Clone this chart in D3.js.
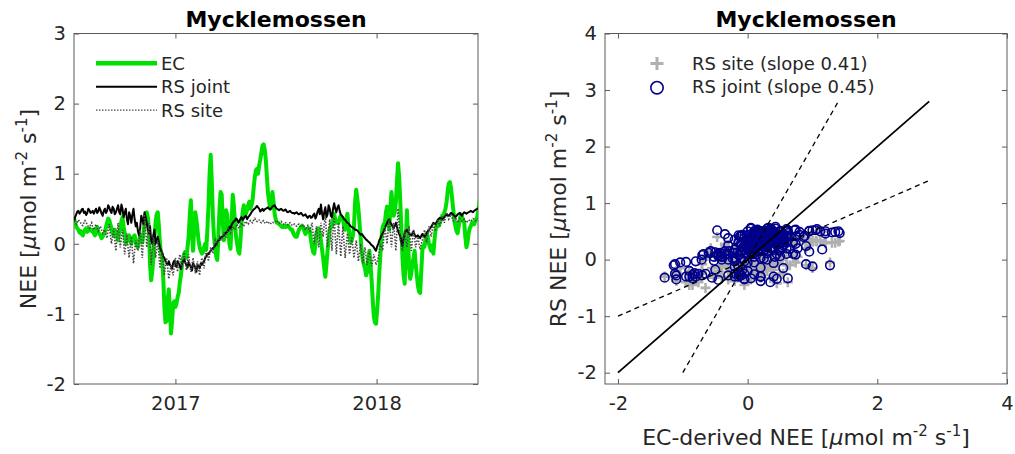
<!DOCTYPE html>
<html><head><meta charset="utf-8">
<script src="https://cdn.jsdelivr.net/npm/d3@7"></script>
<style>
body{margin:0;background:#fff}
text{font-family:"DejaVu Sans",sans-serif;fill:#262626}
</style>
</head><body>
<svg id="c" width="1015" height="454"></svg>
<script>
// ---- data (sampled every 2 days from 2016-07-01) ----
const startDate = "2016-07-01";
const stepDays = 2;
const ec = [
0.36,0.3,0.25,0.22,0.2,0.16,0.18,0.14,0.12,0.17,0.2,0.22,0.17,0.2,0.22,0.19,0.18,0.2,0.15,0.12,
0.2,0.24,0.17,0.14,0.12,0.08,0.1,0.14,0.16,0.24,0.3,0.36,0.34,0.28,0.22,0.15,0.12,0.2,0.18,
0.1,0.05,0.15,0.22,0.32,0.38,0.25,0.15,0.0,0.05,0.1,0.12,0.05,0.0,0.08,0.1,0.12,0.02,-0.02,-0.05,
0.05,0.1,0.12,0.02,0.15,0.3,0.42,0.45,0.38,0.2,-0.3,-0.52,-0.4,-0.2,0.1,0.3,0.42,0.45,0.25,0.0,
-0.15,-0.2,-0.5,-0.9,-1.12,-1.1,-0.8,-0.65,-0.95,-1.28,-1.1,-0.85,-0.82,-0.9,-0.85,-0.76,-0.7,-0.55,-0.45,-0.3,
-0.2,-0.14,-0.12,-0.2,-0.05,0.1,0.4,0.62,0.2,-0.1,0.2,0.45,0.35,0.2,0.05,-0.05,-0.1,-0.14,-0.12,-0.05,
0.0,-0.08,0.2,0.55,1.0,1.27,0.9,0.4,0.1,-0.05,-0.18,-0.23,0.1,0.5,0.74,0.7,0.3,0.05,0.3,0.48,
0.4,0.2,0.0,-0.07,0.3,0.7,0.55,0.3,0.1,0.0,-0.1,-0.14,0.05,0.3,0.45,0.55,0.5,0.43,0.48,0.55,
0.6,0.5,0.55,0.62,0.8,0.95,1.05,1.07,1.0,1.12,1.2,1.3,1.4,1.42,1.35,1.2,0.95,0.72,0.6,0.5,
0.6,0.74,0.6,0.43,0.35,0.3,0.3,0.28,0.27,0.25,0.24,0.24,0.26,0.24,0.25,0.26,0.24,0.22,0.2,0.2,
0.15,0.12,0.1,0.1,0.15,0.2,0.22,0.24,0.26,0.24,0.18,0.14,0.17,0.2,0.22,0.18,0.05,-0.05,-0.12,-0.14,
0.0,0.15,0.2,0.22,0.15,0.05,-0.08,-0.2,-0.35,-0.47,-0.3,-0.1,0.05,0.2,0.24,0.25,0.35,0.43,0.35,0.3,
0.32,0.3,0.36,0.4,0.38,0.35,0.25,0.2,0.35,0.43,0.25,0.1,0.02,0.05,0.12,0.25,0.6,0.77,0.65,0.5,
0.3,0.1,-0.1,-0.23,-0.3,-0.35,-0.45,-0.4,-0.2,-0.1,-0.3,-0.52,-0.8,-1.04,-1.12,-1.14,-0.95,-0.71,-0.4,-0.14,
0.1,0.24,0.28,0.3,0.45,0.53,0.35,0.2,0.5,0.74,0.55,0.4,0.45,0.6,0.9,1.15,0.95,0.6,0.2,-0.2,
-0.45,-0.57,0.0,0.48,0.1,-0.35,-0.5,-0.42,-0.28,-0.2,-0.1,-0.3,-0.45,-0.6,-0.68,-0.7,-0.4,-0.1,-0.02,-0.04,
0.08,0.15,0.1,0.0,-0.05,-0.1,-0.02,-0.14,0.05,0.2,0.28,0.25,0.26,0.3,0.35,0.4,0.38,0.45,0.5,0.6,
0.75,0.86,0.88,0.8,0.65,0.5,0.35,0.25,0.18,0.15,0.25,0.35,0.42,0.38,0.35,0.3,0.1,-0.05,0.02,0.15,
0.22,0.25,0.3,0.3,0.28,0.32,0.35,0.4,0.5,0.62];
const rsJoint = [
0.31,0.38,0.42,0.46,0.47,0.43,0.45,0.49,0.5,0.44,0.46,0.41,0.44,0.5,0.48,0.44,0.45,0.47,0.43,0.47,
0.5,0.44,0.46,0.52,0.48,0.43,0.4,0.47,0.5,0.44,0.47,0.55,0.52,0.47,0.44,0.53,0.5,0.42,0.45,
0.5,0.55,0.45,0.42,0.56,0.5,0.38,0.44,0.5,0.35,0.28,0.45,0.4,0.3,0.42,0.5,0.35,0.25,0.3,0.18,
0.12,0.22,0.4,0.35,0.28,0.45,0.38,0.3,0.2,0.15,0.25,0.05,0.0,0.12,0.2,0.0,0.05,0.1,0.02,-0.05,
-0.1,-0.12,-0.18,-0.2,-0.25,-0.28,-0.3,-0.25,-0.3,-0.32,-0.35,-0.27,-0.24,-0.3,-0.33,-0.25,-0.28,-0.32,-0.36,-0.28,
-0.25,-0.22,-0.27,-0.3,-0.34,-0.26,-0.3,-0.33,-0.38,-0.28,-0.3,-0.34,-0.4,-0.3,-0.33,-0.35,-0.28,-0.3,-0.27,-0.25,
-0.2,-0.18,-0.14,-0.15,-0.12,-0.1,-0.08,-0.06,-0.05,-0.03,0.0,0.02,0.05,0.06,0.09,0.1,0.11,0.12,0.15,0.16,
0.17,0.2,0.24,0.22,0.27,0.3,0.32,0.33,0.36,0.35,0.3,0.32,0.36,0.38,0.34,0.36,0.39,0.4,0.35,0.38,
0.4,0.42,0.45,0.47,0.49,0.5,0.52,0.54,0.52,0.5,0.46,0.48,0.5,0.47,0.49,0.5,0.51,0.52,0.5,0.49,
0.51,0.53,0.54,0.55,0.52,0.5,0.49,0.48,0.49,0.5,0.48,0.47,0.48,0.49,0.46,0.45,0.46,0.47,0.45,0.44,
0.44,0.43,0.44,0.45,0.43,0.42,0.43,0.44,0.42,0.4,0.41,0.42,0.39,0.37,0.39,0.4,0.37,0.38,0.41,0.43,
0.36,0.4,0.46,0.5,0.42,0.56,0.44,0.35,0.45,0.52,0.38,0.42,0.55,0.5,0.4,0.38,0.5,0.58,0.5,0.45,
0.52,0.55,0.47,0.42,0.4,0.38,0.35,0.34,0.32,0.3,0.29,0.27,0.25,0.24,0.23,0.22,0.2,0.2,0.19,0.17,
0.15,0.13,0.14,0.12,0.1,0.08,0.06,0.05,0.03,0.02,0.0,-0.02,-0.03,-0.05,-0.08,-0.1,-0.04,0.0,0.05,0.08,
0.12,0.15,0.18,0.22,0.26,0.3,0.33,0.35,0.3,0.28,0.25,0.22,0.26,0.3,0.24,0.18,0.14,0.1,0.03,-0.03,
0.08,0.15,0.18,0.2,0.17,0.15,0.13,0.12,0.15,0.18,0.13,0.1,0.11,0.12,0.1,0.08,0.11,0.14,0.12,0.1,
0.12,0.15,0.18,0.2,0.22,0.24,0.27,0.3,0.29,0.28,0.31,0.34,0.36,0.37,0.36,0.35,0.37,0.38,0.4,0.42,
0.41,0.4,0.42,0.44,0.43,0.42,0.4,0.38,0.4,0.42,0.43,0.44,0.42,0.4,0.43,0.45,0.44,0.43,0.44,0.45,
0.46,0.47,0.46,0.45,0.47,0.48,0.49,0.5,0.51,0.52];
const rsSite = [
0.33,0.3,0.28,0.31,0.34,0.32,0.3,0.27,0.26,0.3,0.33,0.3,0.28,0.24,0.22,0.27,0.3,0.24,0.2,0.25,
0.28,0.22,0.18,0.22,0.25,0.2,0.15,0.18,0.2,0.12,0.08,0.2,0.28,0.12,0.0,0.1,0.22,0.05,-0.1,
0.12,0.3,0.1,-0.05,0.08,0.2,0.02,-0.15,0.0,0.15,-0.05,-0.2,-0.05,0.1,-0.1,-0.28,-0.1,0.05,-0.05,-0.1,
0.05,0.2,0.0,-0.2,0.1,0.42,0.2,-0.05,0.12,0.3,0.0,-0.3,-0.1,0.1,-0.05,-0.2,-0.08,0.05,-0.15,-0.35,
-0.2,-0.1,-0.3,-0.45,-0.3,-0.2,-0.35,-0.5,-0.4,-0.3,-0.38,-0.45,-0.3,-0.2,-0.3,-0.4,-0.25,-0.15,-0.25,-0.35,
-0.2,-0.1,-0.25,-0.38,-0.25,-0.15,-0.3,-0.4,-0.3,-0.2,-0.32,-0.42,-0.33,-0.25,-0.35,-0.45,-0.3,-0.2,-0.28,-0.35,
-0.2,-0.1,-0.18,-0.25,-0.15,-0.05,-0.1,-0.12,-0.02,0.05,0.0,-0.02,0.05,0.1,0.06,0.05,0.12,0.15,0.12,0.1,
0.17,0.22,0.18,0.15,0.2,0.25,0.22,0.2,0.25,0.28,0.24,0.22,0.27,0.3,0.27,0.25,0.3,0.32,0.29,0.28,
0.31,0.33,0.31,0.3,0.34,0.36,0.33,0.32,0.34,0.34,0.31,0.3,0.32,0.33,0.3,0.29,0.31,0.32,0.29,0.28,
0.3,0.31,0.3,0.3,0.32,0.33,0.3,0.29,0.31,0.32,0.29,0.28,0.3,0.3,0.28,0.27,0.29,0.3,0.28,0.26,
0.27,0.28,0.26,0.25,0.27,0.28,0.25,0.24,0.26,0.27,0.22,0.2,0.24,0.26,0.2,0.18,0.25,0.3,0.12,0.0,
0.15,0.25,0.08,-0.05,0.15,0.3,0.2,0.1,0.28,0.4,0.15,-0.05,0.2,0.35,0.1,-0.1,0.2,0.4,0.1,-0.15,
0.1,0.3,0.05,-0.18,0.05,0.25,0.0,-0.2,-0.02,0.15,0.0,-0.15,-0.02,0.1,-0.05,-0.2,-0.08,0.05,-0.1,-0.25,
-0.12,0.0,-0.15,-0.28,-0.15,-0.05,-0.2,-0.3,-0.18,-0.1,-0.22,-0.32,-0.25,-0.15,-0.22,-0.3,-0.25,-0.2,-0.1,0.0,
-0.05,-0.1,0.1,0.25,0.12,0.0,0.2,0.35,0.15,-0.05,0.15,0.3,0.1,-0.1,0.2,0.5,0.25,0.05,-0.02,-0.1,
0.05,0.2,0.08,-0.05,0.1,0.25,0.05,-0.1,0.05,0.2,0.08,-0.05,0.03,0.1,0.0,-0.08,0.0,0.05,0.12,0.2,
0.1,0.02,0.15,0.25,0.18,0.1,0.2,0.3,0.22,0.18,0.28,0.35,0.3,0.25,0.33,0.4,0.35,0.3,0.38,0.45,
0.4,0.35,0.38,0.42,0.37,0.33,0.36,0.38,0.34,0.3,0.33,0.36,0.34,0.32,0.34,0.35,0.32,0.3,0.32,0.34,
0.33,0.32,0.34,0.36,0.35,0.33,0.34,0.35,0.36,0.38];
const timeDomain = ["2016-07-01","2018-07-04"];
const yearTicks = ["2017-01-01","2018-01-01"];
const leftYTicks = [-2,-1,0,1,2,3];
const rightXTicks = [-2,0,2,4];
const rightYTicks = [-2,-1,0,1,2,3,4];
const rightDomain = [-2.2,4];
const refLines = [
  {x:[-2,2.8], y:[-2,2.8], dash:null},
  {x:[-1,1.4], y:[-2,2.8], dash:"5,4"},
  {x:[-2,2.8], y:[-1,1.4], dash:"5,4"}
];
const title = "Mycklemossen";
const leftLegend = ["EC","RS joint","RS site"];
const rightLegend = ["RS site (slope 0.41)","RS joint (slope 0.45)"];

// ---- drawing ----
const svg = d3.select("#c");
const parse = d3.utcParse("%Y-%m-%d");
const t0 = parse(startDate);
const n = Math.min(ec.length, rsJoint.length, rsSite.length);
const idx = d3.range(n);
const dates = idx.map(i => d3.utcDay.offset(t0, i * stepDays));

const L = {x0:74, x1:478, y0:33.5, y1:384};
const R = {x0:605, x1:1007, y0:33.5, y1:384};
const axCol = "#5a5a5a";
const tickFont = 19.5;

const xL = d3.scaleUtc().domain(timeDomain.map(parse)).range([L.x0, L.x1]);
const yL = d3.scaleLinear().domain([-2,3]).range([L.y1, L.y0]);
const xR = d3.scaleLinear().domain(rightDomain).range([R.x0, R.x1]);
const yR = d3.scaleLinear().domain(rightDomain).range([R.y1, R.y0]);

function frame(B, x, y, xt, yt, xfmt, yfmt){
  const g = svg.append("g");
  g.append("rect").attr("x",B.x0).attr("y",B.y0).attr("width",B.x1-B.x0).attr("height",B.y1-B.y0)
    .attr("fill","none").attr("stroke",axCol).attr("stroke-width",1);
  const ax = [
    [d3.axisBottom(x).tickValues(xt).tickFormat(xfmt), `translate(0,${B.y1})`, 12],
    [d3.axisTop(x).tickValues(xt).tickFormat(""), `translate(0,${B.y0})`, 8],
    [d3.axisLeft(y).tickValues(yt).tickFormat(yfmt), `translate(${B.x0},0)`, 8],
    [d3.axisRight(y).tickValues(yt).tickFormat(""), `translate(${B.x1},0)`, 8]
  ];
  ax.forEach(([a, tr, pad]) => {
    const gg = g.append("g").attr("transform", tr)
      .call(a.tickSizeInner(-5).tickSizeOuter(0).tickPadding(pad));
    gg.select(".domain").remove();
    gg.selectAll("line").attr("stroke", axCol);
    gg.selectAll("text").attr("font-size", tickFont).attr("font-family","DejaVu Sans").attr("fill","#262626");
  });
  return g;
}

// Left panel
frame(L, xL, yL, yearTicks.map(parse), leftYTicks, d3.utcFormat("%Y"), d => d);
const defs = svg.append("defs");
defs.append("clipPath").attr("id","clipL").append("rect")
  .attr("x",L.x0).attr("y",L.y0).attr("width",L.x1-L.x0).attr("height",L.y1-L.y0);

const lineL = arr => d3.line().x(i=>xL(dates[i])).y(i=>yL(arr[i]))(idx);
const gl = svg.append("g").attr("clip-path","url(#clipL)");
gl.append("path").attr("d", lineL(ec)).attr("fill","none").attr("stroke","#00e000").attr("stroke-width",4).attr("stroke-linejoin","round");
gl.append("path").attr("d", lineL(rsJoint)).attr("fill","none").attr("stroke","#000").attr("stroke-width",2).attr("stroke-linejoin","round");
gl.append("path").attr("d", lineL(rsSite)).attr("fill","none").attr("stroke","#4a4a4a").attr("stroke-width",1.6).attr("stroke-dasharray","1.5,1.5");

// left legend
const legStyles = [
  {stroke:"#00e000", w:4.5, dash:null},
  {stroke:"#000", w:2, dash:null},
  {stroke:"#4a4a4a", w:1.3, dash:"1.5,1.5"}
];
leftLegend.forEach((t,i) => {
  const yy = 63.3 + i*23.4;
  svg.append("line").attr("x1",96).attr("x2",157).attr("y1",yy).attr("y2",yy)
    .attr("stroke",legStyles[i].stroke).attr("stroke-width",legStyles[i].w).attr("stroke-dasharray",legStyles[i].dash);
  svg.append("text").attr("x",161).attr("y",yy+6.6).attr("font-size",18).text(t);
});

// titles
[(L.x0+L.x1)/2, (R.x0+R.x1)/2].forEach(cx => {
  svg.append("text").attr("x",cx).attr("y",27).attr("text-anchor","middle")
    .attr("font-size",22).attr("font-weight","bold").style("fill","#000").text(title);
});

// unit label helper
function unitLabel(sel, prefix){
  sel.append("tspan").text(prefix + " [");
  sel.append("tspan").attr("font-style","italic").text("\u03bc");
  sel.append("tspan").text("mol m");
  sel.append("tspan").attr("font-size",15).attr("dy",-9).text("-2");
  sel.append("tspan").attr("dy",9).text(" s");
  sel.append("tspan").attr("font-size",15).attr("dy",-9).text("-1");
  sel.append("tspan").attr("dy",9).text("]");
}
unitLabel(svg.append("text").attr("font-size",22).attr("text-anchor","middle")
  .attr("transform","translate(36,209) rotate(-90)"), "NEE");
unitLabel(svg.append("text").attr("font-size",22).attr("text-anchor","middle")
  .attr("transform","translate(566,209) rotate(-90)"), "RS NEE");
unitLabel(svg.append("text").attr("font-size",22).attr("text-anchor","middle")
  .attr("x",(R.x0+R.x1)/2).attr("y",445), "EC-derived NEE");

// Right panel
frame(R, xR, yR, rightXTicks, rightYTicks, d => d, d => d);
defs.append("clipPath").attr("id","clipR").append("rect")
  .attr("x",R.x0).attr("y",R.y0).attr("width",R.x1-R.x0).attr("height",R.y1-R.y0);
const gr = svg.append("g").attr("clip-path","url(#clipR)");
const plusCol = "#b0b0b0", circCol = "#00008b";
const plus = (g, cx, cy, s, w) => {
  g.append("path").attr("d",`M${cx-s},${cy}H${cx+s}M${cx},${cy-s}V${cy+s}`)
    .attr("stroke",plusCol).attr("stroke-width",w).attr("fill","none");
};
idx.forEach(i => plus(gr, xR(ec[i]), yR(rsSite[i]), 5, 2.6));
gr.selectAll("circle.j").data(idx).join("circle").attr("class","j")
  .attr("cx",i=>xR(ec[i])).attr("cy",i=>yR(rsJoint[i])).attr("r",4.3)
  .attr("fill","none").attr("stroke",circCol).attr("stroke-width",1.6);
refLines.forEach(l => {
  gr.append("line").attr("x1",xR(l.x[0])).attr("x2",xR(l.x[1])).attr("y1",yR(l.y[0])).attr("y2",yR(l.y[1]))
    .attr("stroke","#000").attr("stroke-width",l.dash?1.3:1.8).attr("stroke-dasharray",l.dash);
});

// right legend
plus(svg, 657, 63.5, 6.5, 3);
svg.append("circle").attr("cx",657).attr("cy",87.7).attr("r",6.2).attr("fill","none").attr("stroke",circCol).attr("stroke-width",1.6);
rightLegend.forEach((t,i) => {
  svg.append("text").attr("x",692).attr("y",70 + i*23.4).attr("font-size",18).text(t);
});
</script>
</body></html>
